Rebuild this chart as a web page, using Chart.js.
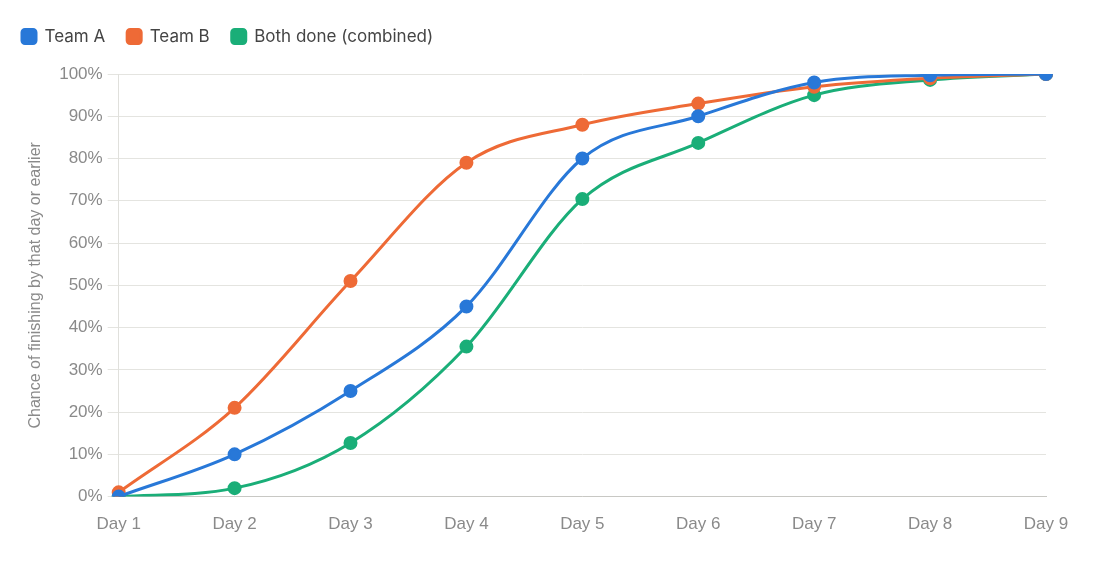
<!DOCTYPE html>
<html>
<head>
<meta charset="utf-8">
<script src="https://cdn.jsdelivr.net/npm/chart.js@4"></script>
<style>
  html, body { margin: 0; padding: 0; background: #fff; }
  #wrap { width: 1097px; height: 562px; position: relative; }
</style>
</head>
<body>
<div id="wrap"><canvas id="chart"></canvas></div>
<script>
const days = ['Day 1', 'Day 2', 'Day 3', 'Day 4', 'Day 5', 'Day 6', 'Day 7', 'Day 8', 'Day 9'];
const teamA = [0, 10, 25, 45, 80, 90, 98, 99.7, 100];
const teamB = [1, 21, 51, 79, 88, 93, 97, 99, 100];
const bothDone = [0, 2, 12.7, 35.5, 70.4, 83.7, 95, 98.6, 100];

const tickColor = '#8a8a8a';

function series(label, data, color) {
    return {
        label: label,
        data: data,
        borderColor: color,
        backgroundColor: color,
        borderWidth: 3,
        pointRadius: 5.5,
        pointHoverRadius: 5.5,
        cubicInterpolationMode: 'monotone',
        fill: false
    };
}

// extra room between legend and plot
const legendGap = {
    id: 'legendGap',
    beforeUpdate(chart) {
        const legend = chart.legend;
        if (!legend || legend._gapPatched) return;
        const fit = legend.fit;
        legend.fit = function () {
            fit.call(this);
            this.height += 19;
        };
        legend._gapPatched = true;
    }
};

new Chart(document.getElementById('chart'), {
    type: 'line',
    data: {
        labels: days,
        datasets: [
            series('Team A', teamA, '#2878d8'),
            series('Team B', teamB, '#ee6a36'),
            series('Both done (combined)', bothDone, '#1aae78')
        ]
    },
    options: {
        responsive: true,
        maintainAspectRatio: false,
        animation: false,
        layout: { padding: { left: 0, right: 51, top: 6, bottom: 17 } },
        plugins: {
            legend: {
                position: 'top',
                align: 'start',
                labels: {
                    boxWidth: 14,
                    boxHeight: 14,
                    useBorderRadius: true,
                    borderRadius: 3,
                    padding: 22,
                    color: '#444',
                    font: { family: 'Inter', size: 17 }
                }
            },
            tooltip: { enabled: false }
        },
        scales: {
            x: {
                grid: { display: false },
                border: { color: '#c8c8c4' },
                ticks: { color: tickColor, font: { family: 'Liberation Sans', size: 17 }, padding: 10 }
            },
            y: {
                min: 0,
                max: 100,
                grid: { color: '#e4e4e0', tickLength: 11 },
                border: { color: '#e0e0dc' },
                ticks: {
                    stepSize: 10,
                    color: tickColor,
                    font: { family: 'Liberation Sans', size: 17 },
                    padding: 5,
                    callback: v => v + '%'
                },
                title: {
                    display: true,
                    text: 'Chance of finishing by that day or earlier',
                    color: tickColor,
                    font: { family: 'Liberation Sans', size: 16 },
                    padding: { top: 26, bottom: 9 }
                }
            }
        }
    },
    plugins: [legendGap]
});
</script>
</body>
</html>
